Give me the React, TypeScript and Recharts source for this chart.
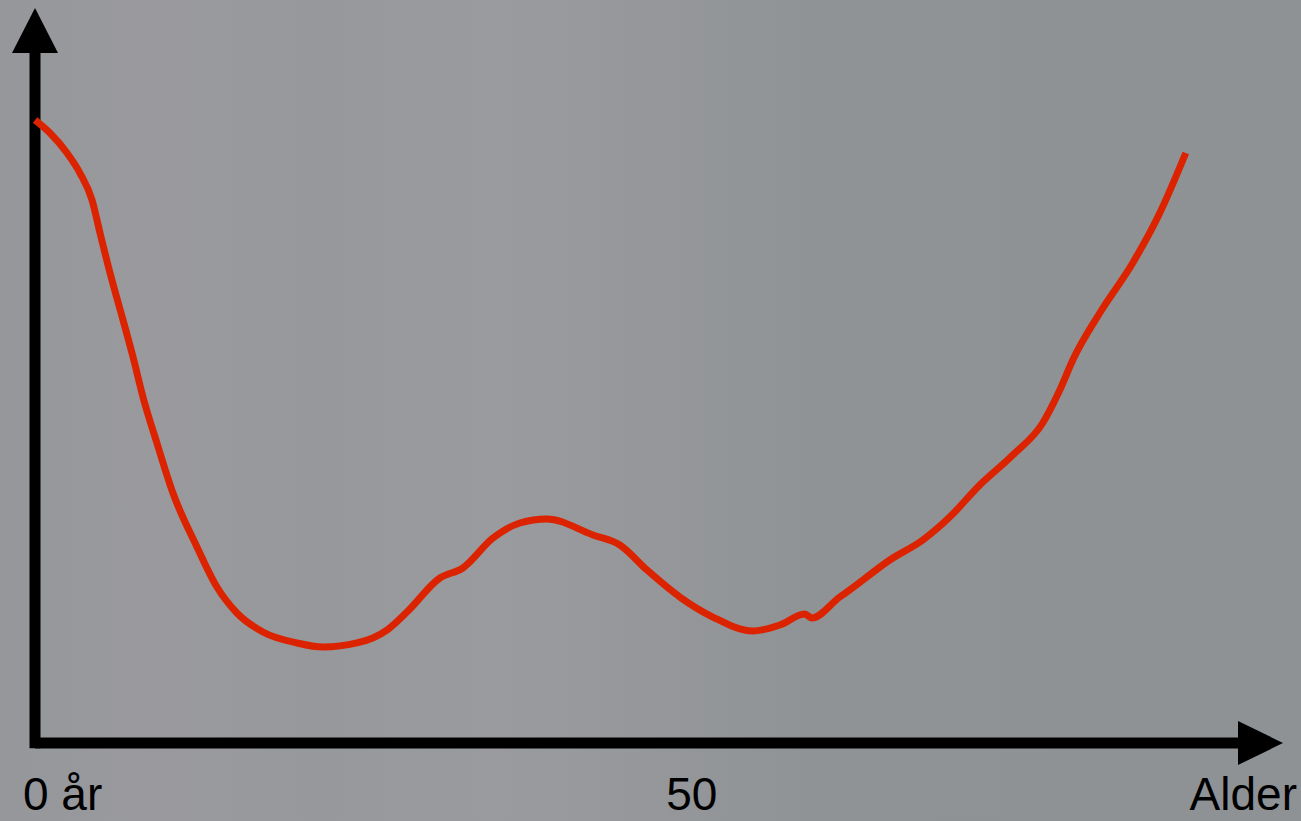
import React from 'react'
import {
  LineChart,
  Line,
  XAxis,
  YAxis,
  ReferenceLine,
  ReferenceDot,
} from 'recharts'

// age in years along the curve
const ages = [
  0, 1.14, 2.44, 3.42, 4.34, 4.95, 5.71, 6.7, 7.46, 8.22, 9.28, 10.5, 12.33,
  13.85, 15.37, 17.35, 19.94, 21.92, 24.51, 26.79, 28.31, 30.82, 32.57, 34.86,
  36.91, 38.96, 42.47, 44.52, 46.58, 49.09, 51.6, 54.64, 56.7, 58.6, 59.13,
  61.26, 62.02, 65.07, 67.58, 69.63, 71.92, 74.43, 76.71, 78.01, 79.0, 81.05,
  83.56, 85.62, 87.6,
]

// relative level (no unit on the picture)
const levels = [
  84.76, 82.99, 80.27, 77.55, 73.88, 69.39, 63.95, 57.55, 52.52, 47.07, 40.82,
  34.01, 26.67, 21.22, 17.69, 15.1, 13.61, 13.06, 13.61, 15.37, 17.82, 22.45,
  23.81, 27.89, 29.93, 30.48, 28.3, 26.94, 23.54, 19.86, 17.14, 15.24, 16.05,
  17.55, 17.01, 19.86, 20.82, 24.9, 27.62, 30.75, 35.1, 39.18, 43.54, 48.03,
  52.11, 58.5, 65.31, 72.11, 80.27,
]

const tickValues = [0, 50, 95]
const tickLabels = ['0 år', '50', 'Alder']

const data = ages.map((age, i) => ({ age, level: levels[i] }))

const AgeTick = (props: any) => {
  const { x, y, payload } = props
  const i = tickValues.indexOf(payload.value)
  let anchor: 'start' | 'middle' | 'end' = 'middle'
  let dx = 0
  if (i === 0) {
    anchor = 'start'
    dx = -12
  } else if (i === tickValues.length - 1) {
    anchor = 'end'
    dx = 14
  }
  return (
    <text
      x={x + dx}
      y={y + 59}
      textAnchor={anchor}
      fontSize={46}
      fontFamily="'Liberation Sans', Arial, sans-serif"
      fill="#000"
    >
      {tickLabels[i]}
    </text>
  )
}

const upArrow = (p: any) => (
  <polygon
    points={`${p.cx},${p.cy} ${p.cx - 23},${p.cy + 45} ${p.cx + 23},${p.cy + 45}`}
    fill="#000"
  />
)

const rightArrow = (p: any) => (
  <polygon
    points={`${p.cx},${p.cy} ${p.cx - 45},${p.cy - 22} ${p.cx - 45},${p.cy + 22}`}
    fill="#000"
  />
)

export default function App() {
  return (
    <div
      style={{
        position: 'fixed',
        left: 0,
        top: 0,
        width: 1301,
        height: 821,
        background:
          'linear-gradient(90deg, #95979a 0%, #9a9a9e 12%, #96989b 25%, #9a9b9e 38%, #95979a 50%, #909396 62%, #8e9295 100%)',
      }}
    >
      <LineChart
        width={1301}
        height={821}
        data={data}
        margin={{ top: 8, right: 18, left: 35, bottom: 0 }}
      >
        <XAxis
          type="number"
          dataKey="age"
          domain={[0, 95]}
          ticks={tickValues}
          interval={0}
          axisLine={false}
          tickLine={false}
          height={78}
          tick={<AgeTick />}
        />
        <YAxis hide type="number" domain={[0, 100]} width={0} />
        <ReferenceLine
          segment={[
            { x: 0, y: -0.7 },
            { x: 0, y: 94 },
          ]}
          stroke="#000"
          strokeWidth={11}
          ifOverflow="visible"
        />
        <ReferenceLine
          segment={[
            { x: 0, y: 0 },
            { x: 91.6, y: 0 },
          ]}
          stroke="#000"
          strokeWidth={11}
          ifOverflow="visible"
        />
        <ReferenceDot x={0} y={100} r={1} shape={upArrow} ifOverflow="visible" />
        <ReferenceDot x={95} y={0} r={1} shape={rightArrow} ifOverflow="visible" />
        <Line
          type="monotone"
          dataKey="level"
          stroke="#dc2300"
          strokeWidth={7}
          dot={false}
          isAnimationActive={false}
        />
      </LineChart>
    </div>
  )
}
